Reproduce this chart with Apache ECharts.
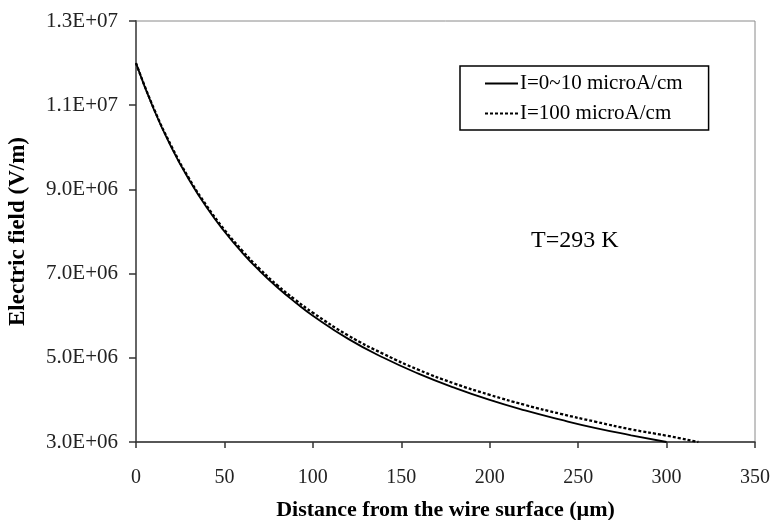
<!DOCTYPE html>
<html><head><meta charset="utf-8">
<script src="https://cdn.jsdelivr.net/npm/echarts@6/dist/echarts.min.js"></script>
<style>html,body{margin:0;padding:0;background:#fff}#c{width:775px;height:520px}</style>
</head><body><div id="c"></div>
<script>
// Distance from wire surface (µm)
const xSolid = [0,10,20,30,40,50,60,70,80,90,100,120,140,160,180,200,220,240,260,280,300];
// Electric field (V/m), I=0~10 microA/cm
const ySolid = [12.0e6,10.91e6,10.0e6,9.23e6,8.57e6,8.0e6,7.5e6,7.06e6,6.67e6,6.32e6,6.0e6,5.45e6,5.0e6,4.62e6,4.29e6,4.0e6,3.75e6,3.53e6,3.33e6,3.16e6,3.0e6];
const xDash = [0,10,20,30,40,50,60,70,80,90,100,120,140,160,180,200,220,240,260,280,300,318];
// Electric field (V/m), I=100 microA/cm
const yDash = [12.0e6,10.93e6,10.03e6,9.26e6,8.61e6,8.04e6,7.55e6,7.11e6,6.72e6,6.38e6,6.07e6,5.53e6,5.09e6,4.71e6,4.39e6,4.12e6,3.88e6,3.67e6,3.48e6,3.30e6,3.15e6,3.0e6];
const seriesNames = ['I=0~10 microA/cm','I=100 microA/cm'];
const yTickLabels = ['3.0E+06','5.0E+06','7.0E+06','9.0E+06','1.1E+07','1.3E+07'];
const xTickLabels = ['0','50','100','150','200','250','300','350'];

const FONT = 'Liberation Serif';
const chart = echarts.init(document.getElementById('c'), null, {renderer:'canvas'});
const zip = (a,b)=>a.map((v,i)=>[v,b[i]]);
chart.setOption({
  animation:false,
  backgroundColor:'#fff',
  grid:{left:136,right:20,top:21,bottom:78,outerBoundsMode:'none',containLabel:false,
    show:true,borderColor:'#8a8a8a',borderWidth:1},
  xAxis:{type:'value',min:0,max:350,interval:50,
    name:'Distance from the wire surface (\u00b5m)',nameLocation:'middle',nameGap:57,
    nameTextStyle:{fontFamily:FONT,fontWeight:'bold',fontSize:22,color:'#000'},
    axisLine:{show:true,lineStyle:{color:'#333',width:1.5}},
    axisTick:{show:true,inside:false,length:6,lineStyle:{color:'#333',width:1.5}},
    axisLabel:{fontFamily:FONT,fontSize:20,color:'#222',margin:26,
      formatter:(v)=>xTickLabels[Math.round(v/50)]},
    splitLine:{show:false}},
  yAxis:{type:'value',min:3e6,max:1.3e7,interval:2e6,
    name:'Electric field (V/m)',nameLocation:'middle',nameGap:106,
    nameTextStyle:{fontFamily:FONT,fontWeight:'bold',fontSize:23,color:'#000'},
    axisLine:{show:true,lineStyle:{color:'#666',width:2}},
    axisTick:{show:true,inside:false,length:7,lineStyle:{color:'#333',width:1.5}},
    axisLabel:{fontFamily:FONT,fontSize:21,color:'#222',margin:18,
      formatter:(v)=>yTickLabels[Math.round((v-3e6)/2e6)]},
    splitLine:{show:false}},
  legend:{orient:'vertical',left:460,top:66,
    padding:[7,26,6,24],itemGap:9,itemWidth:33,itemHeight:14,
    borderColor:'#000',borderWidth:1.5,
    itemStyle:{opacity:0},
    textStyle:{fontFamily:FONT,fontSize:21,color:'#000',padding:[0,0,0,-3]},
    data:seriesNames},
  graphic:[{type:'text',left:531,top:229,style:{text:'T=293 K',font:'24px "Liberation Serif"',fill:'#000'}}],
  series:[
    {name:seriesNames[0],type:'line',data:zip(xSolid,ySolid),smooth:true,symbol:'none',
      itemStyle:{color:'#000'},lineStyle:{color:'#000',width:1.8}},
    {name:seriesNames[1],type:'line',data:zip(xDash,yDash),smooth:true,symbol:'none',
      itemStyle:{color:'#000'},lineStyle:{color:'#000',width:2.3,type:[3,2]}}
  ]
});
</script></body></html>
